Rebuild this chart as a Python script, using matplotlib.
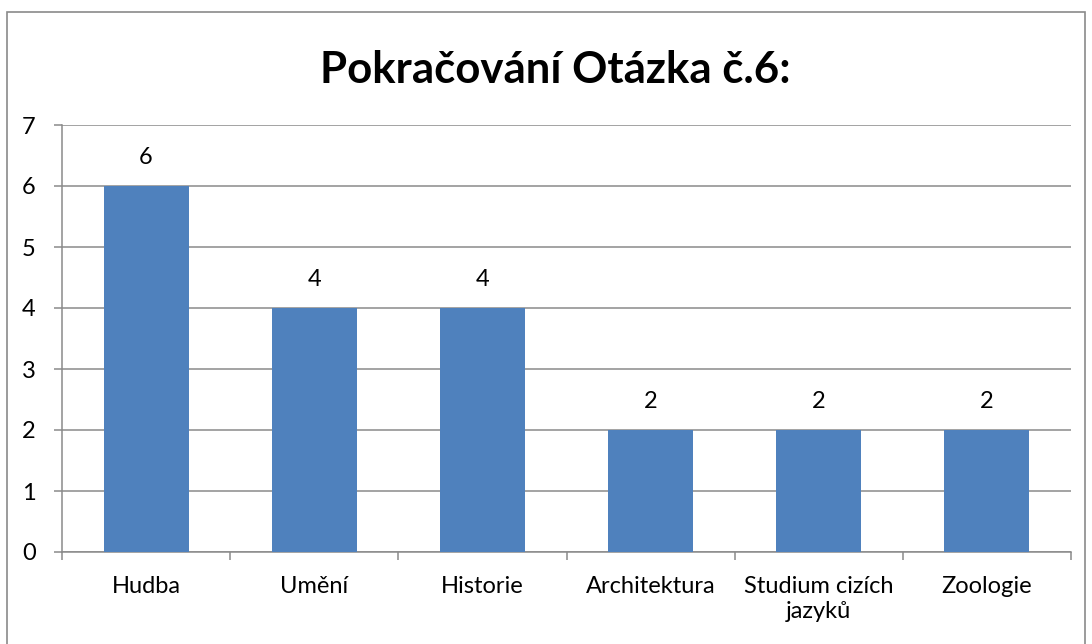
import matplotlib
matplotlib.use('Agg')
import matplotlib.pyplot as plt
from matplotlib.patches import Rectangle

categories = ['Hudba', 'Umění', 'Historie', 'Architektura', 'Studium cizích\njazyků', 'Zoologie']
values = [6, 4, 4, 2, 2, 2]
title = 'Pokračování Otázka č.6:'

plt.rcParams['font.family'] = ['Lato', 'DejaVu Sans']
W, H = 1092, 644
grey = '#8a8a8a'

fig = plt.figure(figsize=(W / 100, H / 100), dpi=100)
fig.patch.set_facecolor('white')
fig.patches.append(Rectangle((7 / W, -0.01), (1085 - 7) / W, (H - 12) / H + 0.01,
                             transform=fig.transFigure, fill=False,
                             edgecolor=grey, linewidth=1.2))

ax = fig.add_axes([62 / W, (H - 552) / H, (1071 - 62) / W, (552 - 125) / H])
x = range(len(categories))
bars = ax.bar(x, values, width=0.505, color='#4f81bd', zorder=3)

for xi, v in zip(x, values):
    ax.annotate(str(v), (xi, v), xytext=(0, 13), textcoords='offset points',
                ha='center', va='bottom', fontsize=17)

ax.set_xlim(-0.5, len(categories) - 0.5)
ax.set_ylim(0, 7)
ax.set_yticks(range(0, 8))
ax.yaxis.grid(True, color=grey, linewidth=1.1, zorder=0)
ax.set_xticks([i - 0.5 for i in range(len(categories) + 1)], minor=False)
ax.set_xticklabels([])
ax.set_xticks(list(x), minor=True)
ax.set_xticklabels(categories, minor=True, fontsize=17, linespacing=1.25, va='top')
ax.tick_params(axis='x', which='minor', length=0, pad=17)
ax.tick_params(axis='x', which='major', length=6, color=grey, width=1.1)
ax.tick_params(axis='y', length=6, color=grey, width=1.1, pad=13, labelsize=17)

for s in ['top', 'right']:
    ax.spines[s].set_visible(False)
for s in ['left', 'bottom']:
    ax.spines[s].set_color(grey)
    ax.spines[s].set_linewidth(1.1)

fig.text(555 / W, (H - 70) / H, title, ha='center', va='center',
         fontsize=31.5, fontweight='bold')

plt.savefig('out.png', dpi=100)
